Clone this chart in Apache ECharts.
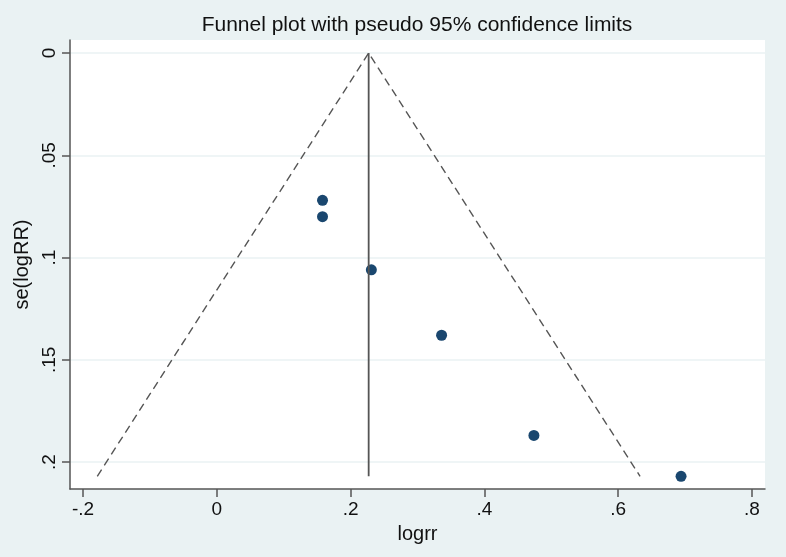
<!DOCTYPE html>
<html>
<head>
<meta charset="utf-8">
<script src="https://cdn.jsdelivr.net/npm/echarts@6/dist/echarts.min.js"></script>
<style>
  html, body { margin: 0; padding: 0; background: #eaf2f3; }
  #chart { width: 786px; height: 557px; }
</style>
</head>
<body>
<div id="chart"></div>
<script>
// study estimates
const logrr = [0.158, 0.158, 0.231, 0.336, 0.474, 0.694];
const seLogRR = [0.072, 0.080, 0.106, 0.138, 0.187, 0.207];
const pooled = 0.227;
const xTicks = [-0.2, 0, 0.2, 0.4, 0.6, 0.8];
const yTicks = [0, 0.05, 0.1, 0.15, 0.2];

const maxSe = Math.max(...seLogRR);
const funnel = [
  [pooled - 1.96 * maxSe, maxSe],
  [pooled, 0],
  [pooled + 1.96 * maxSe, maxSe]
];
const points = logrr.map((x, i) => [x, seLogRR[i]]);

const fmt = v => (v === 0 ? '0' : String(+v.toFixed(2)).replace('0.', '.'));
const axisCol = '#555';
const font = 'Liberation Sans, Arial, sans-serif';

const chart = echarts.init(document.getElementById('chart'));
chart.setOption({
  backgroundColor: '#eaf2f3',
  animation: false,
  title: {
    text: 'Funnel plot with pseudo 95% confidence limits',
    left: 412, top: 10, textAlign: 'center',
    textStyle: { fontFamily: font, fontSize: 21, fontWeight: 'normal', color: '#111' }
  },
  grid: {
    left: 70, right: 21, top: 40, bottom: 68,
    show: true, backgroundColor: '#fff', borderWidth: 0
  },
  xAxis: {
    type: 'value', min: -0.2195, max: 0.8195,
    name: 'logrr', nameLocation: 'middle', nameGap: 35,
    nameTextStyle: { fontFamily: font, fontSize: 20, color: '#111' },
    axisLine: { show: true, onZero: false, lineStyle: { color: axisCol, width: 1.5 } },
    axisTick: { show: true, length: 8, customValues: xTicks, lineStyle: { color: axisCol, width: 1.5 } },
    axisLabel: { customValues: xTicks, formatter: fmt, margin: 11, fontFamily: font, fontSize: 19, color: '#111' },
    splitLine: { show: false }
  },
  yAxis: {
    type: 'value', inverse: true, min: -0.0064, max: 0.2132,
    name: 'se(logRR)', nameLocation: 'middle', nameGap: 37, nameRotate: 90,
    nameTextStyle: { fontFamily: font, fontSize: 20, color: '#111' },
    axisLine: { show: true, onZero: false, lineStyle: { color: axisCol, width: 1.5 } },
    axisTick: { show: true, length: 8, customValues: yTicks, lineStyle: { color: axisCol, width: 1.5 } },
    axisLabel: { customValues: yTicks, formatter: fmt, rotate: 90, margin: 11, fontFamily: font, fontSize: 19, color: '#111' },
    splitLine: { show: true, lineStyle: { color: '#eaf2f3', width: 1.5 } }
  },
  series: [
    {
      type: 'line', data: funnel, symbol: 'none', silent: true,
      lineStyle: { color: '#555', width: 1.4, type: [8, 5] }
    },
    {
      type: 'line', data: [[pooled, 0], [pooled, maxSe]], symbol: 'none', silent: true,
      lineStyle: { color: '#555', width: 1.8 }
    },
    {
      type: 'scatter', data: points, symbolSize: 11,
      itemStyle: { color: '#1a476f', opacity: 1 }
    }
  ]
});
</script>
</body>
</html>
